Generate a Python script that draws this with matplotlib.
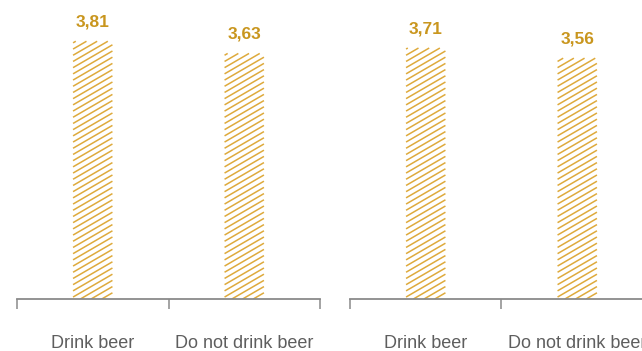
import numpy as np
import matplotlib
matplotlib.use("Agg")
import matplotlib.pyplot as plt
from matplotlib.collections import LineCollection
from matplotlib.transforms import IdentityTransform

categories = ["Drink beer", "Do not drink beer"]
left_values = [3.81, 3.63]
right_values = [3.71, 3.56]

bar_color = "#DEAA3C"
text_color = "#C9961E"
axis_color = "#8A8A8A"

plt.rcParams["font.family"] = ["Liberation Sans", "DejaVu Sans"]

fig = plt.figure(figsize=(6.42, 3.51), dpi=100)
ax_left = fig.add_axes([17 / 642, 52 / 351, 303 / 642, 299 / 351])
ax_right = fig.add_axes([350 / 642, 52 / 351, 303 / 642, 299 / 351])


def hatch_bar(ax, patch, spacing=6.2, slope=0.58):
    # diagonal stripes in pixel space, cut to the bar rectangle
    (x0, y0), (x1, y1) = ax.transData.transform(
        [(patch.get_x(), patch.get_y()),
         (patch.get_x() + patch.get_width(), patch.get_y() + patch.get_height())])
    segs = []
    c = y0 - slope * (x1 - x0)
    while c < y1:
        xa = max(x0, x0 + (y0 - c) / slope)
        xb = min(x1, x0 + (y1 - c) / slope)
        if xb > xa:
            segs.append([(xa, c + slope * (xa - x0)), (xb, c + slope * (xb - x0))])
        c += spacing
    lc = LineCollection(segs, colors=bar_color, linewidths=1.1,
                        transform=IdentityTransform())
    ax.add_collection(lc)


def panel(ax, values):
    x = np.arange(len(categories))
    ax.set_xlim(-0.5, 1.5)
    ax.set_ylim(0, 4.42)
    bars = ax.bar(x, values, width=0.26, color="none", edgecolor="none")
    for b, v in zip(bars, values):
        hatch_bar(ax, b)
        ax.annotate(f"{v:.2f}".replace(".", ","), (b.get_x() + b.get_width() / 2, v),
                    xytext=(0, 15), textcoords="offset pixels", ha="center",
                    va="baseline", color=text_color, fontsize=12.5,
                    fontweight="bold", annotation_clip=False)
    for s in ["top", "right", "left"]:
        ax.spines[s].set_visible(False)
    ax.spines["bottom"].set_color(axis_color)
    ax.spines["bottom"].set_linewidth(1.3)
    ax.set_yticks([])
    ax.set_xticks([-0.5, 0.5, 1.5])
    ax.set_xticklabels([])
    ax.tick_params(axis="x", length=7, width=1.1, color=axis_color)
    for xi, name in zip(x, categories):
        ax.annotate(name, (xi, 0), xytext=(0, -44), textcoords="offset pixels",
                    ha="center", va="center", color="#5E5E5E", fontsize=13,
                    annotation_clip=False)
    ax.patch.set_visible(False)


fig.canvas.draw()
panel(ax_left, left_values)
panel(ax_right, right_values)

fig.savefig("out.png", dpi=100)
